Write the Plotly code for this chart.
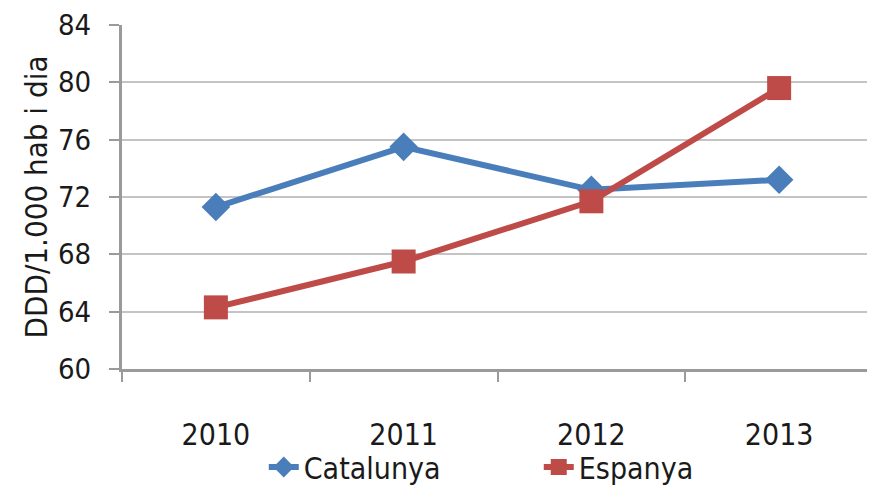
import plotly.graph_objects as go

years = ['2010', '2011', '2012', '2013']
catalunya = [71.3, 75.5, 72.5, 73.2]
espanya = [64.3, 67.5, 71.7, 79.6]
y_ticks = [60, 64, 68, 72, 76, 80, 84]

FONT = 'Liberation Sans Narrow, DejaVu Sans Condensed, Arial Narrow, sans-serif'

fig = go.Figure()

fig.add_trace(go.Scatter(
    x=years, y=catalunya, name='Catalunya', mode='lines+markers',
    line=dict(color='#4a7ebb', width=6),
    marker=dict(symbol='diamond', size=22, color='#4a7ebb'),
))
fig.add_trace(go.Scatter(
    x=years, y=espanya, name='Espanya', mode='lines+markers',
    line=dict(color='#be4b48', width=6),
    marker=dict(symbol='square', size=24, color='#be4b48'),
))

fig.update_xaxes(
    type='category', range=[-0.5, 3.5], tickson='boundaries',
    ticks='outside', ticklen=10, tickcolor='#9a9a9a', tickwidth=2,
    showline=True, linecolor='#9a9a9a', linewidth=3,
    showgrid=False, ticklabelstandoff=37, automargin=False,
    tickfont=dict(family=FONT, size=30, color='#1a1a1a'),
)
fig.update_yaxes(
    range=[60, 84], tickvals=y_ticks,
    ticks='outside', ticklen=10, tickcolor='#9a9a9a', tickwidth=2,
    showline=True, linecolor='#9a9a9a', linewidth=3,
    showgrid=True, gridcolor='#c4c4c4', gridwidth=2,
    zeroline=False, ticklabelstandoff=12, automargin=False,
    ticklabeloverflow='allow',
    tickfont=dict(family=FONT, size=29, color='#1a1a1a'),
    title=dict(text='DDD/1.000 hab i dia', standoff=2,
               font=dict(family=FONT, size=31, color='#1a1a1a')),
)

# the page body adds an 8px margin, so the figure is sized to fit the rest
fig.update_layout(
    width=867, height=485,
    margin=dict(l=114, r=2, t=17, b=124),
    plot_bgcolor='white', paper_bgcolor='white',
    font=dict(family=FONT, color='#1a1a1a'),
    showlegend=True,
    legend=dict(
        orientation='h', xref='container', yref='container',
        x=0.295, xanchor='left', y=-0.02, yanchor='bottom',
        bgcolor='rgba(0,0,0,0)',
        font=dict(family=FONT, size=30, color='#1a1a1a'),
        entrywidth=230, entrywidthmode='pixels',
    ),
)

fig.write_html('out.html')
